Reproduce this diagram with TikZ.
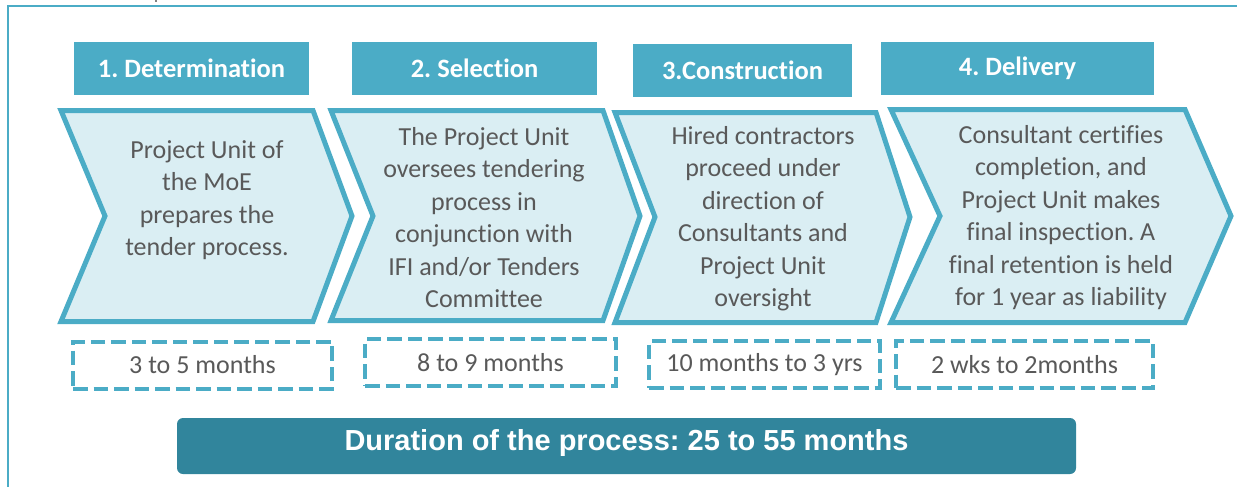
\documentclass[tikz,border=0pt]{standalone}
\usepackage{fontspec}
\setmainfont{Carlito}[Ligatures=NoCommon]
\newfontfamily\barfont{Liberation Sans}
\usetikzlibrary{positioning}
\frenchspacing
\definecolor{headblue}{HTML}{4BACC6}
\definecolor{paleblue}{HTML}{DAEEF3}
\definecolor{textgrey}{HTML}{595959}
\definecolor{barteal}{HTML}{31859C}
\tikzset{
    stage head/.style = {fill=headblue, text=white, inner sep=0pt, minimum height=53pt, font=\fontsize{26.5}{30}\selectfont\bfseries},
    stage arrow/.style = {draw=headblue, fill=paleblue, line width=5pt, line join=miter},
    stage text/.style = {text=textgrey, align=center, font=\fontsize{26}{32.5}\selectfont},
}
\tikzset{
    time box/.style = {draw=headblue, line width=4pt, dash pattern=on 14.5pt off 6pt, text=textgrey, minimum height=47pt, font=\fontsize{26}{30}\selectfont},
    total bar/.style = {fill=barteal, text=white, rounded corners=6pt, minimum width=899pt, minimum height=56pt, text height=21pt, text depth=12pt, font=\barfont\bfseries\fontsize{29}{34}\selectfont},
}

\begin{document}
\begin{tikzpicture}[x=1pt, y=-1pt]
            \useasboundingbox (0,0) rectangle (1237,487);
            \draw[headblue, line width=2pt] (8,487) -- (8,6) -- (1237,6);
            \draw[gray, line width=1.5pt] (156,0) -- (156,2.5);

            \node[stage head, minimum width=235pt] (h1) at (191.5, 68.5) {1. Determination};
            \node[stage head, minimum width=245pt] (h2) at (474.5, 68.5) {2. Selection};
            \node[stage head, minimum width=219pt] (h3) at (742.5, 70.5) {3.Construction};
            \node[stage head, minimum width=273pt] (h4) at (1017.5, 68.5) {4. Delivery};

            \draw[stage arrow] (61,110.5) -- (313,110.5) -- (352,216) -- (313,321.5) -- (61,321.5) -- (105,216) -- cycle;
            \draw[stage arrow] (331,110.5) -- (603,110.5) -- (640,216) -- (603,320.5) -- (331,320.5) -- (373,216) -- cycle;
            \draw[stage arrow] (615,112.5) -- (876,112.5) -- (910,217) -- (876,322.5) -- (615,322.5) -- (655,217) -- cycle;
            \draw[stage arrow] (891,109.5) -- (1185,109.5) -- (1231,216) -- (1185,322.5) -- (891,322.5) -- (940,216) -- cycle;

            \node[stage text] (c1) at (207, 200) {Project Unit of\\the MoE\\prepares the\\tender process.};
            \node[stage text] (c2) at (484, 217.5) {The Project Unit\\oversees tendering\\process in\\conjunction with\\IFI and/or Tenders\\Committee};
            \node[stage text] (c3) at (763, 218.5) {Hired contractors\\proceed under\\direction of\\Consultants and\\Project Unit\\oversight};
            \node[stage text] (c4) at (1061, 217.5) {Consultant certifies\\completion, and\\Project Unit makes\\final inspection. A\\final retention is held\\for 1 year as liability};

            \node[time box, minimum width=259pt] (d1) at (202.5, 365) {3 to 5 months};
            \node[time box, minimum width=251pt] (d2) at (490.5, 362.5) {8 to 9 months};
            \node[time box, minimum width=231pt] (d3) at (764.5, 364.5) {10 months to 3 yrs};
            \node[time box, minimum width=257pt] (d4) at (1024.5, 364.5) {2 wks to 2months};

            \node[total bar] (total) at (626.5, 446) {Duration of the process: 25 to 55 months};
\end{tikzpicture}
\end{document}
